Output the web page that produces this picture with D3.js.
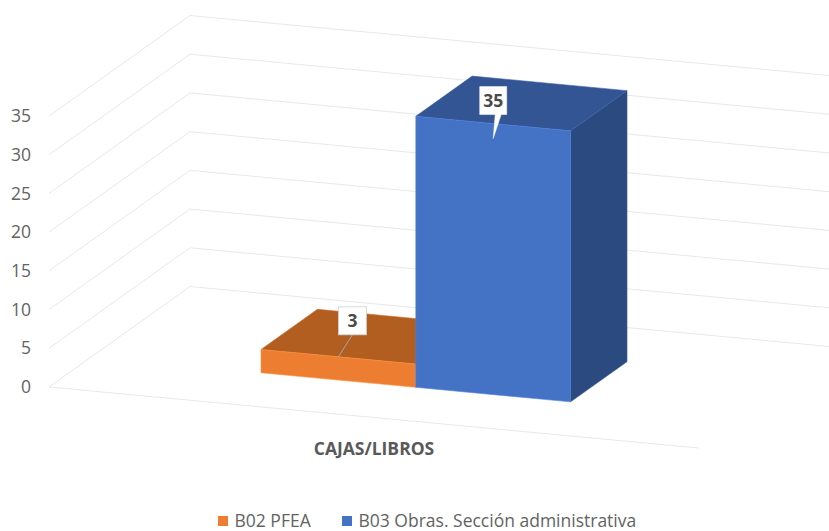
<!DOCTYPE html>
<html>
<head>
<meta charset="utf-8">
<script src="https://cdn.jsdelivr.net/npm/d3@7"></script>
<style>
html,body{margin:0;padding:0;background:#fff}
svg{display:block}
text{font-family:"Open Sans",sans-serif;fill:#636363}
</style>
</head>
<body>
<svg id="chart" width="829" height="531"></svg>
<script>
const seriesNames = ["B02 PFEA", "B03 Obras. Sección administrativa"];
const seriesValues = [3, 35];
const categoryLabel = "CAJAS/LIBROS";
const tickValues = [0, 5, 10, 15, 20, 25, 30, 35];
const frontColors = ["#ed7d31", "#4472c4"];
const topColors = ["#b25e21", "#335593"];
const sideColors = ["#a5591f", "#2b4a80"];

const svg = d3.select("#chart");
const yScale = d3.scaleLinear().domain([0, 35]).range([0, 271]);
const uScale = d3.scaleLinear().domain([0, 1]).range([0, 649]);
const band = d3.scaleBand().domain(seriesNames).range([0.2615, 0.7385]);
const depthX = d3.scaleLinear().domain([0, 1]).range([0, 141]);
const depthY = d3.scaleLinear().domain([0, 1]).range([0, -100.5]);
const originX = 49, originY = 387, slope = 0.0939;
const barDepth = [0.3, 0.7];

function project(u, d, v) {
  const px = uScale(u);
  return [originX + px + depthX(d), originY + px * slope + depthY(d) - yScale(v)];
}
const line = d3.line();

// gridlines: side wall + back wall (the back wall runs past the canvas)
const gridColor = "#e8e8e8";
const grid = svg.append("g").attr("fill", "none").attr("stroke", gridColor).attr("stroke-width", 1);
tickValues.forEach(t => {
  grid.append("path").attr("d", line([project(0, 0, t), project(0, 1, t), project(1, 1, t)]));
});
grid.append("path").attr("d", line([project(0, 0, 0), project(1, 0, 0)]));

// axis labels
svg.append("g").selectAll("text").data(tickValues).join("text")
  .attr("x", 31)
  .attr("y", d => project(0, 0, d)[1])
  .attr("dy", "0.35em")
  .attr("text-anchor", "end")
  .attr("font-size", 17.5)
  .text(d => d);

// bars
const bars = svg.append("g");
seriesNames.forEach((name, i) => {
  const u0 = band(name), u1 = u0 + band.bandwidth();
  const v = seriesValues[i];
  const [d0, d1] = barDepth;
  const g = bars.append("g").attr("stroke-width", 0.6).attr("stroke-linejoin", "round");
  const face = (pts, fill) => g.append("path")
    .attr("d", line(pts) + "Z").attr("fill", fill).attr("stroke", d3.color(fill).brighter(0.4).formatHex());
  face([project(u1, d0, 0), project(u1, d1, 0), project(u1, d1, v), project(u1, d0, v)], sideColors[i]);
  face([project(u0, d0, v), project(u1, d0, v), project(u1, d1, v), project(u0, d1, v)], topColors[i]);
  face([project(u0, d0, 0), project(u1, d0, 0), project(u1, d0, v), project(u0, d0, v)], frontColors[i]);
});

// data labels
const labelShift = [[14, -22, 0], [0, -24, 15]]; // box offset from tip, tip drop
seriesNames.forEach((name, i) => {
  const um = band(name) + band.bandwidth() / 2;
  const [tx, ty0] = project(um, barDepth[0], seriesValues[i]);
  const [sx, sy, drop] = labelShift[i];
  const ty = ty0 + drop;
  const w = i === 0 ? 28 : 27, h = 28;
  const cx = tx + sx, by = ty + sy;
  const g = svg.append("g");
  if (i === 0) {
    g.append("path").attr("d", line([[tx, ty], [cx, by]])).attr("stroke", "#a6a6a6").attr("stroke-width", 1).attr("fill", "none");
    g.append("rect").attr("x", cx - w / 2).attr("y", by - h).attr("width", w).attr("height", h)
      .attr("fill", "#fff").attr("stroke", "#d0d0d0").attr("stroke-width", 0.8);
  } else {
    g.append("path").attr("d", line([
      [cx - w / 2, by - h], [cx + w / 2, by - h], [cx + w / 2, by], [cx + 8, by], [tx, ty], [cx + 2, by], [cx - w / 2, by]
    ]) + "Z").attr("fill", "#fff").attr("stroke", "#fff").attr("stroke-width", 0.5);
  }
  g.append("text").attr("x", cx).attr("y", by - h / 2).attr("dy", "0.35em")
    .attr("text-anchor", "middle").attr("font-size", 17.5).attr("font-weight", 700)
    .style("fill", "#4a4a4a").text(seriesValues[i]);
});

// category label
svg.append("text").attr("x", 374).attr("y", 449).attr("dy", "0.35em")
  .attr("text-anchor", "middle").attr("font-size", 17.5).attr("font-weight", 700).style("fill", "#595959").text(categoryLabel);

// legend
const legendX = [218, 342];
const legend = svg.append("g");
seriesNames.forEach((name, i) => {
  legend.append("rect").attr("x", legendX[i]).attr("y", 516).attr("width", 10).attr("height", 10).attr("fill", frontColors[i]);
  legend.append("text").attr("x", legendX[i] + 16.5).attr("y", 526.5).attr("font-size", 17.5).text(name);
});
</script>
</body>
</html>
